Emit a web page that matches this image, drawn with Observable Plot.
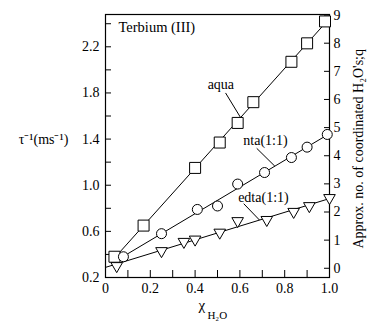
<!DOCTYPE html>
<html><head><meta charset="utf-8">
<script src="https://cdn.jsdelivr.net/npm/d3@7"></script>
<script src="https://cdn.jsdelivr.net/npm/@observablehq/plot@0.6"></script>
<style>body{margin:0;background:#fff} svg{display:block} svg, svg text{font-family:"Liberation Serif","Times New Roman",serif !important}</style>
</head><body><div id="chart"></div>
<script>
// ---- data ----
const xAqua = [0.04, 0.17, 0.40, 0.51, 0.59, 0.66, 0.83, 0.90, 0.98];
const yAqua = [0.38, 0.65, 1.15, 1.37, 1.54, 1.72, 2.07, 2.23, 2.42];
const xNta  = [0.08, 0.25, 0.41, 0.50, 0.59, 0.71, 0.83, 0.90, 0.99];
const yNta  = [0.38, 0.58, 0.79, 0.82, 1.01, 1.11, 1.24, 1.33, 1.44];
const xEdta = [0.05, 0.25, 0.35, 0.40, 0.51, 0.59, 0.72, 0.84, 0.91, 1.00];
const yEdta = [0.30, 0.43, 0.51, 0.53, 0.59, 0.69, 0.70, 0.77, 0.82, 0.89];

const seriesNames = ["aqua", "nta(1:1)", "edta(1:1)"];
const xTickLabels = [0, 0.2, 0.4, 0.6, 0.8, 1.0];
const xTickMinor = [0.1, 0.2, 0.3, 0.4, 0.5, 0.6, 0.7, 0.8, 0.9];
const yTickLabels = [0.2, 0.6, 1.0, 1.4, 1.8, 2.2];
const yTickAll = [0.2, 0.4, 0.6, 0.8, 1.0, 1.2, 1.4, 1.6, 1.8, 2.0, 2.2, 2.4];
const qTicks = [0, 1, 2, 3, 4, 5, 6, 7, 8, 9];
// q (right axis) relation to τ^-1 (left axis): τ^-1 = q / qSlope + qOffset
const qSlope = 4.1, qOffset = 0.28;

const titleText = "Terbium (III)";
const yLabel = "τ⁻¹(ms⁻¹)";
const qLabel = "Approx. no. of coordinated H₂O's;q";

// ---- build ----
const toRows = (xs, ys) => xs.map((x, i) => ({x, y: ys[i]}));
const aqua = toRows(xAqua, yAqua), nta = toRows(xNta, yNta), edta = toRows(xEdta, yEdta);
function fit(xs, ys) {
  const mx = d3.mean(xs), my = d3.mean(ys);
  const b = d3.sum(xs, (x, i) => (x - mx) * (ys[i] - my)) / d3.sum(xs, x => (x - mx) ** 2);
  const a = my - b * mx;
  return x => a + b * x;
}
const fA = fit(xAqua, yAqua), fN = fit(xNta, yNta), fE = fit(xEdta, yEdta);
const lineA = [d3.min(xAqua), d3.max(xAqua)].map(x => ({x, y: fA(x)}));
const lineN = [d3.min(xNta), d3.max(xNta)].map(x => ({x, y: fN(x)}));
const lineE = [0, d3.max(xEdta)].map(x => ({x, y: fE(x)}));
const qToY = q => q / qSlope + qOffset;

const labels = [
  {t: seriesNames[0], x: 0.515, y: 1.875, x1: 0.536, y1: 1.80, x2: 0.603, f: fA},
  {t: seriesNames[1], x: 0.714, y: 1.39, x1: 0.675, y1: 1.32, x2: 0.756, f: fN},
  {t: seriesNames[2], x: 0.705, y: 0.895, x1: 0.617, y1: 0.84, x2: 0.6875, f: fE}
];

const serif = '"Liberation Serif", "Times New Roman", serif';
const chart = Plot.plot({
  width: 369, height: 327,
  marginLeft: 105, marginRight: 40, marginTop: 14, marginBottom: 50,
  style: {fontFamily: serif, fontSize: "14px", background: "#fff", color: "#000"},
  x: {domain: [0, 1], label: null},
  y: {domain: [0.2, 2.48], label: null},
  marks: [
    Plot.frame({stroke: "#000", strokeWidth: 1.2}),
    // inward ticks
    Plot.axisX({ticks: xTickMinor, tickSize: -7, text: null, label: null}),
    Plot.axisX({ticks: xTickLabels, tickSize: 0, tickPadding: 6, tickFormat: d => d === 0 ? "0" : d.toFixed(1), label: null, fontSize: 14}),
    Plot.axisY({ticks: yTickAll, tickSize: -6, text: null, label: null}),
    Plot.axisY({ticks: yTickLabels, tickSize: 0, tickPadding: 6, tickFormat: d => d.toFixed(1), label: null, fontSize: 14}),
    Plot.axisY({anchor: "right", ticks: qTicks.map(qToY), tickSize: -6, text: null, label: null}),
    Plot.axisY({anchor: "right", ticks: qTicks.map(qToY), tickSize: 0, tickPadding: 4,
      tickFormat: v => String(Math.round((v - qOffset) * qSlope)), label: null, fontSize: 14}),
    // fit lines
    Plot.line(lineA, {x: "x", y: "y", stroke: "#000", strokeWidth: 1}),
    Plot.line(lineN, {x: "x", y: "y", stroke: "#000", strokeWidth: 1}),
    Plot.line(lineE, {x: "x", y: "y", stroke: "#000", strokeWidth: 1}),
    // points
    Plot.dot(aqua, {x: "x", y: "y", symbol: "square", r: 6.2, fill: "#fff", stroke: "#000", strokeWidth: 1}),
    Plot.dot(nta, {x: "x", y: "y", symbol: "circle", r: 5, fill: "#fff", stroke: "#000", strokeWidth: 1}),
    Plot.dot(edta, {x: "x", y: "y", symbol: "triangle", rotate: 180, r: 4.3, fill: "#fff", stroke: "#000", strokeWidth: 1}),
    // series labels and leaders
    Plot.link(labels, {x1: "x1", y1: "y1", x2: "x2", y2: d => d.f(d.x2), stroke: "#000", strokeWidth: 1}),
    Plot.text(labels, {x: "x", y: "y", text: "t", fontSize: 14, fontFamily: serif}),
    // title
    Plot.text([titleText], {frameAnchor: "top-left", dx: 13, dy: 13, textAnchor: "start", lineAnchor: "middle", fontSize: 14.5, fontFamily: serif}),
    // left axis label
    Plot.text([yLabel], {frameAnchor: "left", y: () => 1.4, dx: -62, textAnchor: "middle", fontSize: 14, fontFamily: serif}),
    // x axis label
    Plot.text(["χ"], {frameAnchor: "bottom", x: () => 0.43, dy: 32, fontSize: 15, fontFamily: serif}),
    Plot.text(["H₂O"], {frameAnchor: "bottom", x: () => 0.455, dy: 41, textAnchor: "start", fontSize: 11, fontFamily: serif}),
    // right axis label
    Plot.text([qLabel], {frameAnchor: "bottom-right", dx: 33, dy: -29, rotate: -90, textAnchor: "start", fontSize: 14, fontFamily: serif})
  ]
});
document.getElementById("chart").appendChild(chart);
</script>
</body></html>
